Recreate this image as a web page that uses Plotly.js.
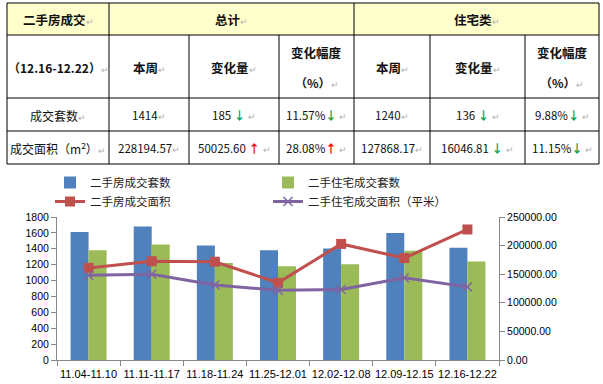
<!DOCTYPE html>
<html><head><meta charset="utf-8">
<script src="https://cdn.plot.ly/plotly-3.0.1.min.js"></script>
<style>html,body{margin:0;padding:0;background:#fff;}#chart{width:603px;height:384px;}</style>
</head><body><div id="chart"></div>
<script>
// ---- chart data ----
const categories = ['11.04-11.10','11.11-11.17','11.18-11.24','11.25-12.01','12.02-12.08','12.09-12.15','12.16-12.22'];
const totalUnits = [1610, 1680, 1440, 1380, 1405, 1599, 1414];
const resUnits   = [1380, 1455, 1220, 1180, 1205, 1376, 1240];
const totalArea  = [161000, 172700, 171800, 135000, 202900, 178168.97, 228194.57];
const resArea    = [148300, 150000, 131000, 121800, 123300, 143914.98, 127868.17];
const seriesNames = ['二手房成交套数','二手住宅成交套数','二手房成交面积','二手住宅成交面积（平米）'];

// ---- table data ----
const tableTitle = ['二手房成交', '（12.16-12.22）'];
const groupHeaders = ['总计', '住宅类'];
const subHeaders = ['本周', '变化量', '变化幅度', '（%）'];
const rowLabels = ['成交套数', '成交面积（m²）'];
const totalThisWeek = ['1414', '228194.57'];
const totalChange = ['185', '50025.60'];
const totalPct = ['11.57%', '28.08%'];
const totalDir = ['down', 'up'];
const resThisWeek = ['1240', '127868.17'];
const resChange = ['136', '16046.81'];
const resPct = ['9.88%', '11.15%'];
const resDir = ['down', 'down'];

// ---- geometry helpers (pixel -> paper) ----
const L = 57, R = 499, T = 217, B = 360;
const X = px => (px - L) / (R - L);
const Y = py => (B - py) / (B - T);
const colE = [7, 109, 189, 279, 354, 430, 525, 599];
const rowE = [3, 35, 98, 131, 164];

const CJK = '"Noto Sans CJK SC", "Noto Sans", sans-serif';
const PM = '<span style="color:#b0b0b0;font-size:9px">↵</span>';
const arrow = d => d === 'up'
  ? '<span style="color:#ff0000"><b>↑</b></span>'
  : '<span style="color:#00a050"><b>↓</b></span>';

const shapes = [];
shapes.push({type:'rect', xref:'paper', yref:'paper', x0:X(colE[0]), x1:X(colE[7]), y0:Y(rowE[0]), y1:Y(rowE[1]),
  fillcolor:'#ffffcc', line:{width:0}});
function hline(py, x0, x1){ shapes.push({type:'line', xref:'paper', yref:'paper', x0:X(x0), x1:X(x1), y0:Y(py), y1:Y(py), line:{color:'#000', width:1}}); }
function vline(px, y0, y1){ shapes.push({type:'line', xref:'paper', yref:'paper', x0:X(px), x1:X(px), y0:Y(y0), y1:Y(y1), line:{color:'#000', width:1}}); }
rowE.forEach(r => hline(r, colE[0], colE[7]));
[0,1,4,7].forEach(i => vline(colE[i], rowE[0], rowE[4]));
[2,3,5,6].forEach(i => vline(colE[i], rowE[1], rowE[4]));

const annotations = [];
function cell(text, c0, c1, py, size, bold){
  annotations.push({xref:'paper', yref:'paper', x:X((colE[c0]+colE[c1])/2), y:Y(py),
    xanchor:'center', yanchor:'middle', showarrow:false,
    text: bold ? '<b>'+text+'</b>'+PM : text+PM,
    font:{family:CJK, size:size, color:'#111'}});
}
cell(tableTitle[0], 0, 1, 19, 12.5, true);
cell(groupHeaders[0], 1, 4, 19, 12.5, true);
cell(groupHeaders[1], 4, 7, 19, 12.5, true);
cell(tableTitle[1], 0, 1, 67, 12, true);
[[1,2],[4,5]].forEach(([a,b]) => {
  cell(subHeaders[0], a, a+1, 67, 12.5, true);
  cell(subHeaders[1], a+1, a+2, 67, 12.5, true);
  annotations.push({xref:'paper', yref:'paper', x:X((colE[a+2]+colE[a+3])/2), y:Y(52), xanchor:'center', yanchor:'middle',
    showarrow:false, text:'<b>'+subHeaders[2]+'</b>', font:{family:CJK, size:12.5, color:'#111'}});
  cell(subHeaders[3], a+2, a+3, 82, 12, true);
});
const rowY = [115, 148];
for (let i = 0; i < rowLabels.length; i++) {
  const py = rowY[i];
  cell(rowLabels[i].replace('m²','m<sup>2</sup>'), 0, 1, py, 12, false);
  cell(totalThisWeek[i], 1, 2, py, 11.5, false);
  cell(totalChange[i] + ' ' + arrow(totalDir[i]) + ' ', 2, 3, py, 11.5, false);
  cell(totalPct[i] + arrow(totalDir[i]) + ' ', 3, 4, py, 11.5, false);
  cell(resThisWeek[i], 4, 5, py, 11.5, false);
  cell(resChange[i] + ' ' + arrow(resDir[i]) + ' ', 5, 6, py, 11.5, false);
  cell(resPct[i] + arrow(resDir[i]) + ' ', 6, 7, py, 11.5, false);
}

const traces = [
  {type:'bar', name:seriesNames[0], x:categories, y:totalUnits, marker:{color:'#4f81bd'}, legend:'legend'},
  {type:'bar', name:seriesNames[1], x:categories, y:resUnits, marker:{color:'#9bbb59'}, legend:'legend2'},
  {type:'scatter', mode:'lines+markers', name:seriesNames[2], x:categories, y:totalArea, yaxis:'y2', legend:'legend',
    line:{color:'#c0504d', width:3}, marker:{symbol:'square', size:10, color:'#c0504d'}},
  {type:'scatter', mode:'lines+markers', name:seriesNames[3], x:categories, y:resArea, yaxis:'y2', legend:'legend2',
    line:{color:'#8064a2', width:3}, marker:{symbol:'x-thin', size:9, line:{color:'#8064a2', width:1.5}}}
];

const axFont = {family:'"Liberation Sans", Arial, sans-serif', size:11, color:'#000'};
const legFont = {family:CJK, size:11.5, color:'#222'};
const layout = {
  width:603, height:384,
  margin:{l:L, r:603-R, t:T, b:384-B, pad:0},
  paper_bgcolor:'#fff', plot_bgcolor:'#fff',
  barmode:'group', bargap:0.43, bargroupgap:0,
  showlegend:true,
  legend:{orientation:'v', x:X(50), xanchor:'left', y:Y(168), yanchor:'top', traceorder:'normal',
    font:legFont, bgcolor:'rgba(0,0,0,0)', tracegroupgap:0},
  legend2:{orientation:'v', x:X(268), xanchor:'left', y:Y(168), yanchor:'top', traceorder:'normal',
    font:legFont, bgcolor:'rgba(0,0,0,0)', tracegroupgap:0},
  xaxis:{type:'category', showline:true, linecolor:'#868686', ticks:'outside', tickson:'boundaries',
    ticklen:5, tickcolor:'#868686', showgrid:false, tickfont:axFont, tickangle:0, ticklabelstandoff:4},
  yaxis:{range:[0,1800], dtick:200, showline:true, linecolor:'#868686', ticks:'outside', ticklen:5,
    tickcolor:'#868686', showgrid:false, zeroline:false, tickfont:{...axFont, size:10.5}},
  yaxis2:{overlaying:'y', side:'right', range:[0,250000], dtick:50000, tickformat:'.2f',
    showline:true, linecolor:'#868686', ticks:'outside', ticklen:5, tickcolor:'#868686',
    showgrid:false, zeroline:false, tickfont:{...axFont, size:10.5}},
  shapes:shapes, annotations:annotations
};
Plotly.newPlot('chart', traces, layout, {displayModeBar:false, staticPlot:true});
</script></body></html>
